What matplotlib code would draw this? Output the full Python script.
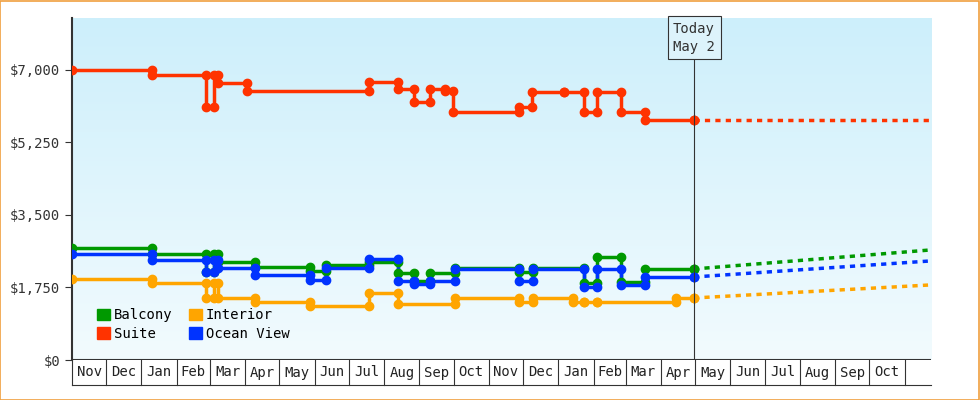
import numpy as np
import pandas as pd
import matplotlib.pyplot as plt
import matplotlib.transforms as mtransforms
from matplotlib.patches import Rectangle

# days since Nov 1 2023
suite_days = [0, 70, 118, 125, 128, 154, 261, 286, 300, 314, 327, 334, 392, 404, 432, 449, 461, 482, 503, 546]
suite_vals = [7000, 6880, 6110, 6880, 6686, 6493, 6710, 6541, 6228, 6541, 6493, 5986, 6107, 6469, 6469, 5986, 6469, 5986, 5793, 5793]

balcony_days = [0, 70, 118, 125, 128, 161, 209, 223, 261, 286, 300, 314, 336, 392, 405, 449, 461, 482, 503, 546]
balcony_vals = [2704, 2559, 2124, 2559, 2366, 2245, 2148, 2293, 2366, 2100, 1907, 2100, 2221, 2124, 2221, 1859, 2486, 1883, 2197, 2197]

ocean_days = [0, 70, 118, 125, 128, 161, 209, 223, 261, 286, 300, 314, 336, 392, 405, 449, 461, 482, 503, 546]
ocean_vals = [2559, 2414, 2124, 2414, 2221, 2052, 1931, 2221, 2438, 1907, 1835, 1907, 2197, 1907, 2197, 1762, 2197, 1811, 2004, 2004]

interior_days = [0, 70, 118, 125, 128, 161, 209, 261, 286, 336, 392, 405, 440, 449, 461, 530, 546]
interior_vals = [1955, 1859, 1497, 1859, 1497, 1400, 1303, 1617, 1352, 1497, 1400, 1497, 1400, 1400, 1400, 1497, 1497]

forecast_end = 753
forecast_vals = {"Suite": 5793, "Balcony": 2655, "Ocean View": 2390, "Interior": 1811}

today_day = 546
yticks = [0, 1750, 3500, 5250, 7000]
ytick_labels = ["$0", "$1,750", "$3,500", "$5,250", "$7,000"]

start = pd.Timestamp("2023-11-01")
month_starts = pd.date_range("2023-11-01", "2025-11-01", freq="MS")
month_days = [(d - start).days for d in month_starts]
month_names = [d.strftime("%b") for d in month_starts[:-1]]

plt.rcParams["font.family"] = "DejaVu Sans Mono"

fig = plt.figure(figsize=(9.8, 4), dpi=100)
fig.patches.append(Rectangle((0.0005, 0.001), 0.998, 0.997, transform=fig.transFigure,
                             fill=False, edgecolor="#f0a040", linewidth=1.2))
ax = fig.add_axes([72/980, 40/400, 859/980, 342/400])
ax.set_xlim(0, forecast_end + 1)
ax.set_ylim(0, 8255)

# gradient background
grad = np.linspace(1, 0, 256).reshape(-1, 1)
cmap = plt.matplotlib.colors.LinearSegmentedColormap.from_list("bg", ["#f2fbfe", "#cdeffb"])
ax.imshow(grad[::-1], extent=[0, forecast_end + 1, 0, 8255], aspect="auto", cmap=cmap,
          origin="lower", zorder=0)

series = [
    ("Balcony", balcony_days, balcony_vals, "#009900"),
    ("Suite", suite_days, suite_vals, "#ff3300"),
    ("Interior", interior_days, interior_vals, "#ffa500"),
    ("Ocean View", ocean_days, ocean_vals, "#0033ff"),
]
for name, days, vals, c in series:
    ax.plot(days, vals, drawstyle="steps-post", color=c, lw=2.5, zorder=3, label=name)
    mx = [days[0]]
    my = [vals[0]]
    for i in range(1, len(days)):
        mx += [days[i], days[i]]
        my += [vals[i - 1], vals[i]]
    ax.plot(mx, my, "o", color=c, ms=6, zorder=4)
    ax.plot([days[-1], forecast_end], [vals[-1], forecast_vals[name]], color=c, lw=2.5,
            ls=(0, (1.5, 1.5)), zorder=3)

ax.axvline(today_day, color="#333333", lw=0.8, zorder=5)
ax.text(today_day, 8170, "Today\nMay 2", ha="center", va="top", fontsize=10, color="#333333",
        linespacing=1.4, zorder=6,
        bbox=dict(boxstyle="square,pad=0.4", fc="#ddf3fb", ec="#333333", lw=0.8))

ax.set_yticks(yticks)
ax.set_yticklabels(ytick_labels, fontsize=10, color="#333333")
ax.tick_params(axis="y", direction="out", length=5, color="#333333")
ax.set_xticks([])
for s in ["top", "right", "bottom"]:
    ax.spines[s].set_visible(False)
ax.spines["left"].set_color("#333333")
ax.spines["left"].set_linewidth(1.5)
ax.axhline(0, color="#333333", lw=1.5, zorder=5)

# month cells below the axis
trans = mtransforms.blended_transform_factory(ax.transData, ax.transAxes)
cell_h = 25 / 342
for d in month_days:
    ax.plot([d, d], [0, -cell_h], color="#333333", lw=0.8, transform=trans, clip_on=False)
ax.plot([0, forecast_end + 1], [-cell_h, -cell_h], color="#333333", lw=0.8, transform=trans, clip_on=False)
for i, name in enumerate(month_names):
    mid = (month_days[i] + month_days[i + 1]) / 2
    ax.text(mid, -cell_h / 2, name, ha="center", va="center", fontsize=10, color="#222222",
            transform=trans)

handles, labels = ax.get_legend_handles_labels()
leg = ax.legend([Rectangle((0, 0), 1, 1, color=h.get_color()) for h in handles], labels,
                ncol=2, loc="lower left", bbox_to_anchor=(0.015, 0.02), frameon=False,
                fontsize=10, handlelength=0.9, handleheight=0.9, handletextpad=0.3,
                columnspacing=1.2, labelspacing=0.3)

fig.savefig("out.png", dpi=100)
